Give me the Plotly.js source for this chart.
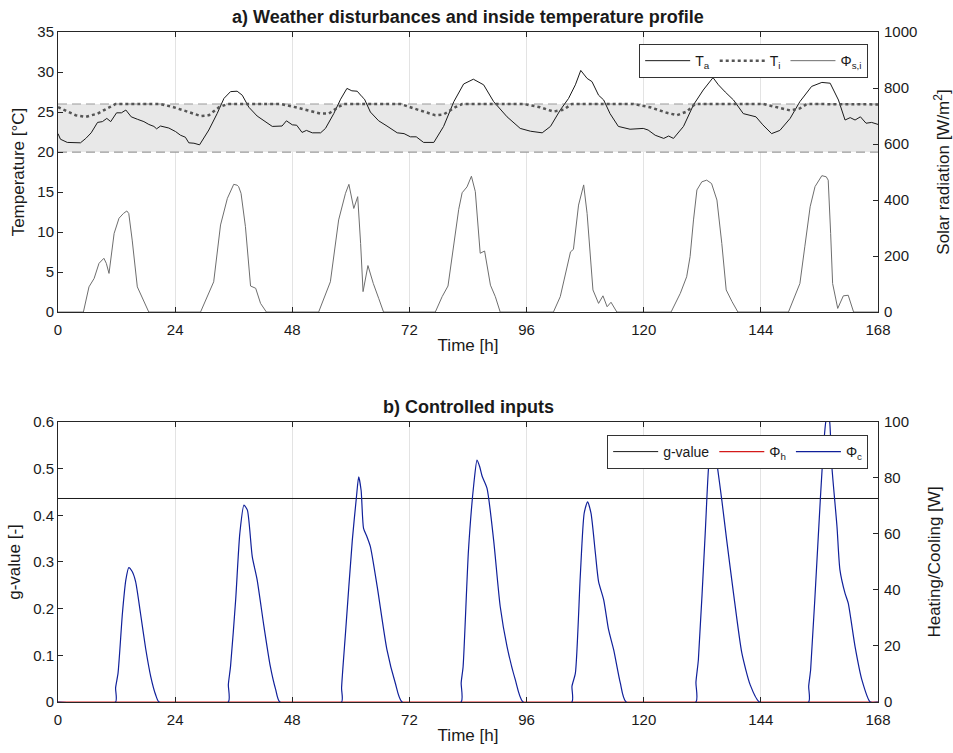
<!DOCTYPE html>
<html>
<head>
<meta charset="utf-8">
<script src="https://cdn.plot.ly/plotly-3.0.1.min.js"></script>
<style>html,body{margin:0;padding:0;background:#fff;}#chart{width:953px;height:753px;}</style>
</head>
<body>
<div id="chart"></div>
<script>
// ---- Data ----
const xTicks = [0, 24, 48, 72, 96, 120, 144, 168];

// Ambient temperature T_a [°C]
const tTa = [0,0.5,1.9,3.3,4.6,5.7,6.8,8.1,9.1,10.0,10.8,12.0,13.0,13.9,15.0,16.25,17.6,18.6,19.65,20.2,21.0,22.7,24.1,25.1,26.1,26.8,27.85,29.0,30.9,32.6,34.0,35.35,36.7,37.75,39.1,40.8,42.2,43.9,45.9,46.8,48.0,48.9,50.0,50.9,52.1,53.8,54.8,56.5,57.9,59.2,60.2,61.3,62.3,62.8,64.0,65.7,67.4,69.5,70.9,72.2,73.4,74.9,77.0,79.0,81.1,83.1,85.1,87.2,89.25,92.0,94.7,96.8,99.2,100.9,102.9,104.6,106.0,107.1,108.4,109.4,110.75,111.8,113.1,114.8,117.2,119.9,120.9,122.35,124.1,125.1,126.1,128.15,130.2,132.2,134.2,135.3,136.7,138.4,140.4,142.1,143.0,144.4,146.2,147.9,150.0,152.0,154.4,156.5,158.2,159.9,161.25,162.3,163.3,164.4,165.55,166.7,168];
const Ta = [22.3,21.6,21.2,21.15,21.15,21.7,22.4,23.7,23.8,24.2,23.8,24.9,24.9,25.25,24.4,24.1,23.8,23.45,23.2,22.9,23.25,23.0,22.55,22.1,21.85,21.15,21.1,20.9,22.75,24.8,26.7,27.55,27.6,27.1,25.6,24.5,23.9,23.2,23.25,23.9,23.4,23.35,22.45,22.7,22.4,22.4,22.95,24.8,26.6,27.95,27.65,27.6,26.9,26.6,25.0,23.9,23.25,22.4,22.3,21.9,21.9,21.2,21.2,23.2,26.3,28.5,29.1,28.4,26.3,24.4,22.95,22.6,22.4,23.2,25.25,26.7,28.4,30.2,29.2,28.8,27.1,26.5,24.8,23.2,22.85,22.95,22.75,22.1,21.7,22.0,21.7,23.2,25.9,27.75,29.3,28.4,27.5,26.5,24.8,24.5,24.4,23.4,22.3,22.7,24.2,26.3,28.2,28.7,28.6,26.5,24.0,24.3,24.0,24.4,23.6,23.7,23.45];

// Inside temperature T_i [°C]
const tTi = [0,1.9,3.6,5.7,8.1,10.1,11.8,21.0,23.7,26.5,29.2,30.9,33.0,34.7,45.6,48.3,51.05,53.8,55.5,57.5,58.6,70.2,72.9,75.6,77.3,79.0,81.4,82.8,95.4,98.8,101.5,103.6,105.3,117.9,121.3,124.75,126.8,128.8,130.5,144.5,147.3,150.0,152.0,153.4,168];
const Ti = [25.6,25.05,24.6,24.4,24.8,25.45,26.0,26.0,25.6,25.05,24.5,24.6,25.6,26.0,26.0,25.65,25.25,24.8,24.8,25.65,26.0,26.0,25.45,24.9,24.6,24.7,25.6,26.0,26.0,25.6,25.05,25.3,26.0,26.0,25.6,24.9,24.6,25.05,26.0,26.0,25.6,25.2,25.45,26.0,25.95];

// Solar radiation Phi_s,i [W/m2]
const tSol = [0,5.2,6.35,7.4,8.4,9.4,9.9,10.45,11.5,12.5,13.4,14.1,14.5,15.2,16.25,17.3,18.6,
  29.2,30.9,31.9,33.3,34.7,36.0,36.7,37.0,37.5,38.4,39.45,40.5,41.5,42.7,
  53.4,55.8,57.5,58.9,59.6,60.6,61.4,62.0,62.5,63.5,64.6,65.7,66.7,
  77.3,78.7,79.9,82.1,82.8,83.8,84.7,85.5,86.5,87.4,88.6,89.6,90.6,
  101.5,102.9,103.9,105.0,105.6,106.65,107.7,108.4,109.6,110.75,111.65,112.5,113.3,114.5,
  125.6,127.5,128.8,129.5,130.2,130.9,131.9,132.9,133.9,135.0,136.0,136.9,138.1,139.3,
  149.65,152.0,153.0,154.1,155.1,156.5,157.4,157.8,158.3,158.7,159.75,160.9,161.9,163.0,168];
const solar = [0,0,90,120,174,192,174,138,281,335,352,361,352,257,90,49,0,
  0,67,108,311,406,456,453,448,424,305,93,85,31,0,
  0,108,329,424,456,370,412,245,73,166,102,49,0,
  0,55,93,367,426,447,485,430,210,218,96,55,0,
  0,55,132,215,224,382,454,352,79,31,58,19,35,0,
  0,67,126,198,329,436,465,471,459,400,245,79,37,0,
  0,102,233,376,448,487,483,471,281,102,13,58,60,0,0];

// Comfort band [°C]
const bandT = [0, 168];
const bandLow = [20, 20];
const bandHigh = [26, 26];

// g-value [-]
const tG = [0, 168];
const gValue = [0.436, 0.436];

// Heating Phi_h [W]
const tPh = [0, 168];
const Ph = [0, 0];

// Cooling Phi_c [W]
const tPc = [0,
  11.8,11.8,12.3,13.2,13.9,14.5,15.2,15.9,16.9,17.95,19.0,20.0,20.7,
  34.9,34.9,35.35,36.4,37.25,38.1,38.8,39.8,40.8,42.2,43.5,44.6,45.45,
  58.1,58.1,58.9,60.3,61.15,61.6,62.1,62.6,63.3,64.0,65.4,67.4,69.1,70.5,
  82.6,82.6,83.0,84.1,85.2,85.85,86.4,86.9,87.9,89.25,90.6,92.0,93.7,95.3,
  105.3,105.3,106.0,107.0,107.8,108.5,109.2,110.1,110.75,111.8,112.8,113.85,115.2,116.4,
  130.7,130.7,131.2,132.6,133.3,133.8,134.2,134.6,135.0,136.0,137.0,138.4,140.1,141.8,143.7,
  153.8,153.8,154.2,155.8,156.7,157.4,157.8,158.1,158.55,159.6,160.2,161.25,161.9,163.3,164.7,166.4,168];
const Pc = [0,
  0,5.0,10.3,31.7,43.6,48.0,46.6,43.0,31.7,19.2,9.1,2.6,0,
  0,6.2,12.7,36.5,60.2,70.3,68.5,51.9,43.6,26.9,12.7,4.4,0,
  0,5.0,24.6,57.8,73.3,80.4,75.6,62.0,59.0,55.5,41.2,18.6,6.8,0,
  0,6.8,12.7,54.3,78.0,86.4,84.0,80.6,76.3,57.8,34.1,19.8,7.9,0,
  0,5.6,10.3,44.8,67.4,71.5,67.4,53.1,43.0,36.5,25.8,18.6,6.8,0,
  0,7.0,15.1,60.2,84.0,89.9,92,90,85.2,72.1,57.8,38.8,17.5,6.2,0,
  0,5.6,11.5,60.2,87.6,101,102,100,84.0,62.6,47.2,38.8,35.3,19.8,7.9,0,0];

// ---- Traces ----
const traces = [
  {x: bandT, y: bandLow, xaxis: 'x', yaxis: 'y', mode: 'lines', showlegend: false, hoverinfo: 'skip',
   line: {color: '#9a9a9a', width: 1.2, dash: '9px,5px'}},
  {x: bandT, y: bandHigh, xaxis: 'x', yaxis: 'y', mode: 'lines', showlegend: false, hoverinfo: 'skip',
   fill: 'tonexty', fillcolor: '#e8e8e8', line: {color: '#9a9a9a', width: 1.2, dash: '9px,5px'}},
  {x: tTa, y: Ta, xaxis: 'x', yaxis: 'y', mode: 'lines', name: 'T<sub>a</sub>', legend: 'legend',
   line: {color: '#1a1a1a', width: 1}},
  {x: tTi, y: Ti, xaxis: 'x', yaxis: 'y', mode: 'lines', name: 'T<sub>i</sub>', legend: 'legend',
   line: {color: '#555555', width: 2.5, dash: 'dot'}},
  {x: tSol, y: solar, xaxis: 'x', yaxis: 'y2', mode: 'lines', name: 'Φ<sub>s,i</sub>', legend: 'legend',
   line: {color: '#6e6e6e', width: 1}},
  {x: tG, y: gValue, xaxis: 'x2', yaxis: 'y3', mode: 'lines', name: 'g-value', legend: 'legend2',
   line: {color: '#1a1a1a', width: 1}},
  {x: tPh, y: Ph, xaxis: 'x2', yaxis: 'y4', mode: 'lines', name: 'Φ<sub>h</sub>', legend: 'legend2',
   line: {color: '#d41a1a', width: 1.2}},
  {x: tPc, y: Pc, xaxis: 'x2', yaxis: 'y4', mode: 'lines', name: 'Φ<sub>c</sub>', legend: 'legend2',
   line: {color: '#10209a', width: 1.2, shape: 'spline', smoothing: 0.6}}
];

const FONT = 'Liberation Sans, Arial, Helvetica, sans-serif';
const TXT = '#1a1a1a';
const axCommon = {
  showline: true, linecolor: '#262626', linewidth: 1,
  ticks: 'inside', ticklen: 5, tickcolor: '#262626',
  tickfont: {family: FONT, size: 15, color: TXT},
  zeroline: false, showgrid: false, fixedrange: true
};
const xCommon = Object.assign({}, axCommon, {
  range: [0, 168], tickvals: xTicks, ticktext: xTicks.map(String),
  showgrid: true, gridcolor: '#e3e3e3', gridwidth: 1, mirror: 'ticks', ticklabelstandoff: 4,
  title: {text: 'Time [h]', font: {family: FONT, size: 17, color: TXT}, standoff: 2}
});
const titleFont = {family: FONT, size: 17, color: TXT};
const legendCommon = {orientation: 'h', xanchor: 'right', yanchor: 'top', traceorder: 'normal',
  bgcolor: '#ffffff', bordercolor: '#333333', borderwidth: 1, itemwidth: 45,
  font: {family: FONT, size: 14, color: TXT}, tracegroupgap: 0};

const layout = {
  width: 953, height: 753,
  margin: {l: 58, r: 75, t: 32, b: 51},
  paper_bgcolor: '#ffffff', plot_bgcolor: '#ffffff',
  font: {family: FONT, size: 14, color: TXT},
  xaxis: Object.assign({}, xCommon, {anchor: 'y', domain: [0, 1]}),
  yaxis: Object.assign({}, axCommon, {domain: [0.582, 1], range: [0, 35], dtick: 5, anchor: 'x',
    title: {text: 'Temperature [°C]', font: titleFont, standoff: 8}}),
  yaxis2: Object.assign({}, axCommon, {overlaying: 'y', side: 'right', range: [0, 1000], dtick: 200, anchor: 'x',
    ticklabelstandoff: 2,
    title: {text: 'Solar radiation [W/m<sup>2</sup>]', font: titleFont, standoff: 20}}),
  xaxis2: Object.assign({}, xCommon, {anchor: 'y3', domain: [0, 1]}),
  yaxis3: Object.assign({}, axCommon, {domain: [0, 0.418], range: [0, 0.6], dtick: 0.1, anchor: 'x2',
    title: {text: 'g-value [-]', font: titleFont, standoff: 8}}),
  yaxis4: Object.assign({}, axCommon, {overlaying: 'y3', side: 'right', range: [0, 100], dtick: 20, anchor: 'x2',
    ticklabelstandoff: 2,
    title: {text: 'Heating/Cooling [W]', font: titleFont, standoff: 20}}),
  legend: Object.assign({}, legendCommon, {x: 0.988, y: 0.982}),
  legend2: Object.assign({}, legendCommon, {x: 0.988, y: 0.3985}),
  annotations: [
    {text: '<b>a) Weather disturbances and inside temperature profile</b>', xref: 'paper', yref: 'paper',
     x: 0.5, y: 1.022, xanchor: 'center', yanchor: 'middle', showarrow: false,
     font: {family: FONT, size: 18, color: TXT}},
    {text: '<b>b) Controlled inputs</b>', xref: 'paper', yref: 'paper',
     x: 0.5, y: 0.440, xanchor: 'center', yanchor: 'middle', showarrow: false,
     font: {family: FONT, size: 18, color: TXT}}
  ],
  showlegend: true
};

Plotly.newPlot('chart', traces, layout, {displayModeBar: false, staticPlot: true});
</script>
</body>
</html>
